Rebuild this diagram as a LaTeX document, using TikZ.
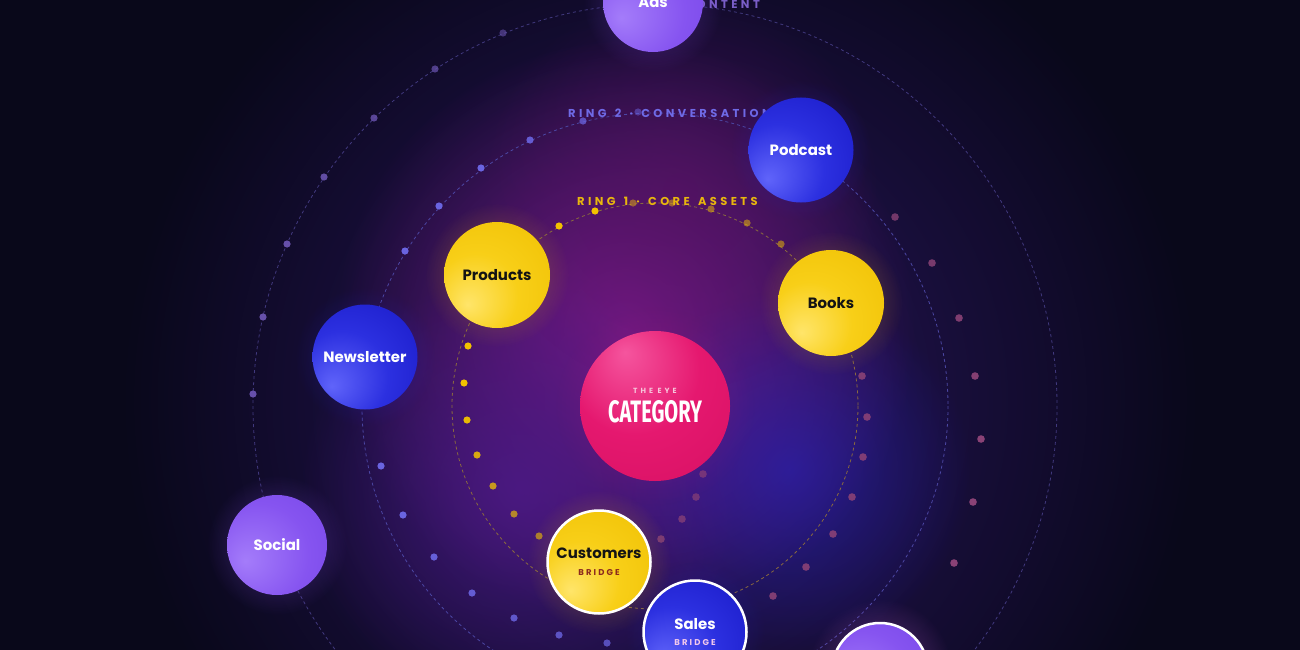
\documentclass[tikz,border=0pt]{standalone}
\usepackage{fontspec}
\setmainfont{Poppins}
\newfontfamily\spaced[LetterSpace=25]{Poppins}
\newfontfamily\wide[LetterSpace=40]{Poppins}
\newfontfamily\ringf[LetterSpace=30, WordSpace=1.4]{Poppins}
\newfontfamily\condf{Fira Sans}
\newcommand\bridgefont{\spaced\bfseries\fontsize{8.5}{10}\selectfont}
\usetikzlibrary{fadings}
\tikzfading[name=glowfade, inner color=transparent!0, outer color=transparent!100]
\definecolor{bg}{HTML}{09081A}
\definecolor{Y1}{HTML}{FFE56A}
\definecolor{Y2}{HTML}{F8CF18}
\definecolor{Y3}{HTML}{EEBE00}
\definecolor{B1}{HTML}{6064FA}
\definecolor{B2}{HTML}{2C30E0}
\definecolor{B3}{HTML}{1515C2}
\definecolor{V1}{HTML}{A47CFA}
\definecolor{V2}{HTML}{8654F0}
\definecolor{V3}{HTML}{7444E6}
\definecolor{P1}{HTML}{F5559E}
\definecolor{P2}{HTML}{E5186F}
\definecolor{P3}{HTML}{D40F60}
\definecolor{txtdark}{HTML}{141414}
\definecolor{bridgered}{HTML}{8B2A1E}
\definecolor{bridgepink}{HTML}{F2C8EC}
\definecolor{catsub}{HTML}{F7C4DA}
\definecolor{ringone}{HTML}{E8B60E}
\definecolor{ringtwo}{HTML}{6F6AE6}
\definecolor{ringthree}{HTML}{7A5EC8}
\definecolor{dotyel}{HTML}{F2C200}
\definecolor{dotblue}{HTML}{6A64E0}
\definecolor{dotpurp}{HTML}{6650AA}
\definecolor{dotpink}{HTML}{8A4276}
\definecolor{nebA}{HTML}{2A1660}
\definecolor{nebB}{HTML}{7A1A88}
\definecolor{nebC}{HTML}{4E1A8A}
\definecolor{nebD}{HTML}{2A22B8}
\definecolor{nebE}{HTML}{5A1262}
\definecolor{haloY}{HTML}{F5C000}
\definecolor{haloB}{HTML}{2A2AE0}
\definecolor{haloV}{HTML}{8A50F0}
\definecolor{haloT}{HTML}{C060D0}
\definecolor{haloP}{HTML}{E0206F}
\definecolor{ringcA}{HTML}{41397E}
\definecolor{ringcB}{HTML}{4C47A4}
\definecolor{ringcC}{HTML}{8A6A3E}
\pgfdeclareradialshading{yball}{\pgfpoint{-14bp}{-14bp}}{color(0bp)=(Y1); color(20bp)=(Y2); color(48bp)=(Y3); color(70bp)=(Y3)}
\pgfdeclareradialshading{bball}{\pgfpoint{-16bp}{-14bp}}{color(0bp)=(B1); color(22bp)=(B2); color(50bp)=(B3); color(70bp)=(B3)}
\pgfdeclareradialshading{vball}{\pgfpoint{-16bp}{-8bp}}{color(0bp)=(V1); color(26bp)=(V2); color(50bp)=(V3); color(70bp)=(V3)}
\pgfdeclareradialshading{pball}{\pgfpoint{-10bp}{18bp}}{color(0bp)=(P1); color(22bp)=(P2); color(50bp)=(P3); color(70bp)=(P3)}
\begin{document}
\begin{tikzpicture}[x=1bp,y=-1bp,
  ball/.style={circle, inner sep=0pt, align=center, shade,
    font=\bfseries\fontsize{15}{17}\selectfont},
  yb/.style={ball, shading=yball, minimum size=106bp, text=txtdark},
  bb/.style={ball, shading=bball, minimum size=105bp, text=white},
  vb/.style={ball, shading=vball, minimum size=100bp, text=white},
  bridge/.style={draw=white, line width=2.5bp},
  glow/.style={fill=#1, path fading=glowfade},
  ringline/.style={draw=#1, line width=0.8bp, dash pattern=on 3bp off 3bp},
  ringlab/.style={inner sep=0pt, text=#1, font=\ringf\bfseries\fontsize{11.5}{13}\selectfont}
]
\useasboundingbox (0,0) rectangle (1300,650);
\clip (0,0) rectangle (1300,650);
\fill[bg] (0,0) rectangle (1300,650);
% nebula
\fill[glow=nebA] (660,400) circle (540);
\fill[glow=nebB, opacity=0.95] (625,330) circle (290);
\fill[glow=nebC, opacity=0.8] (520,490) circle (220);
\fill[glow=nebD, opacity=0.65] (790,470) circle (180);
\fill[glow=nebE, opacity=0.55] (680,190) circle (200);
% centres
\coordinate (ctr) at (655,406);
\coordinate (cAds) at (653,2);
\coordinate (cPodcast) at (801,150);
\coordinate (cProducts) at (497,275);
\coordinate (cBooks) at (831,303);
\coordinate (cNewsletter) at (365,357);
\coordinate (cSocial) at (277,545);
\coordinate (cCustomers) at (599,562);
\coordinate (cSales) at (695,632);
\coordinate (cThird) at (880,671);
% rings
\draw[ringline=ringcA] (ctr) circle (402);
\draw[ringline=ringcB] (ctr) circle (293);
\draw[ringline=ringcC] (ctr) circle (203);
% dots
\foreach \x/\y/\o in {559/226/1, 595/211/1, 633/203/0.45, 672/203/0.45, 711/209/0.5, 747/223/0.5, 781/244/0.5,
  468/346/1, 464/383/1, 467/420/0.95, 477/455/0.85, 493/486/0.75, 514/514/0.65, 539/536/0.6}
  \fill[dotyel, opacity=\o] (\x,\y) circle (3.6);
\foreach \x/\y/\o in {405/251/1, 439/206/1, 481/168/1, 530/140/0.9, 583/121/0.75, 638/112/0.5,
  381/466/1, 403/515/1, 434/557/0.95, 472/593/0.9, 514/618/0.85, 559/635/0.8, 607/643/0.75}
  \fill[dotblue, opacity=\o] (\x,\y) circle (3.6);
\foreach \x/\y/\o in {253/394/1, 263/317/1, 287/244/1, 324/177/0.95, 374/118/0.85, 435/69/0.75, 503/33/0.6}
  \fill[dotpurp, opacity=\o] (\x,\y) circle (3.6);
\foreach \x/\y/\o in {895/217/0.8, 932/263/0.85, 959/318/0.9, 975/376/0.95, 981/439/1, 973/502/1, 954/563/1,
  862/376/0.9, 867/417/0.9, 863/457/0.9, 852/497/0.9, 833/534/0.9, 806/567/0.9, 773/596/0.9,
  703/474/0.7, 696/497/0.7, 682/519/0.75, 661/539/0.8}
  \fill[dotpink, opacity=\o] (\x,\y) circle (3.8);
% ring labels
\node[ringlab=ringone, anchor=west] (lab1) at (577,201) {RING 1 · CORE ASSETS};
\node[ringlab=ringtwo, anchor=west] (lab2) at (568,113) {RING 2 · CONVERSATION};
\node[ringlab=ringthree, anchor=east] (lab3) at (760,4) {RING 3 · CONTENT};
% halos
\foreach \c in {cProducts, cBooks, cCustomers}
  \fill[glow=haloY, opacity=0.35] (\c) circle (72);
\foreach \c in {cPodcast, cNewsletter, cSales}
  \fill[glow=haloB, opacity=0.35] (\c) circle (70);
\foreach \c in {cAds, cSocial}
  \fill[glow=haloV, opacity=0.4] (\c) circle (70);
\fill[glow=haloT, opacity=0.45] (cThird) circle (72);
\fill[glow=haloP, opacity=0.2] (ctr) circle (100);
% balls
\node[vb] (ads) at (cAds) {Ads};
\node[bb] (podcast) at (cPodcast) {Podcast};
\node[yb] (products) at (cProducts) {Products};
\node[yb] (books) at (cBooks) {Books};
\node[bb] (newsletter) at (cNewsletter) {Newsletter};
\node[vb] (social) at (cSocial) {Social};
\node[ball, shading=pball, minimum size=150bp, text=white] (category) at (ctr)
  {{\wide\fontsize{7.5}{9}\selectfont\color{catsub}THE EYE}\\[6bp]
   \resizebox{94bp}{22bp}{\condf\bfseries CATEGORY}};
\node[yb, bridge, minimum size=103bp] (customers) at (cCustomers)
  {Customers\\{\bridgefont\color{bridgered}BRIDGE}};
\node[bb, bridge, minimum size=103bp] (sales) at (cSales)
  {Sales\\{\bridgefont\color{bridgepink}BRIDGE}};
\node[vb, bridge, minimum size=96bp] (third) at (cThird) {};
\end{tikzpicture}
\end{document}
